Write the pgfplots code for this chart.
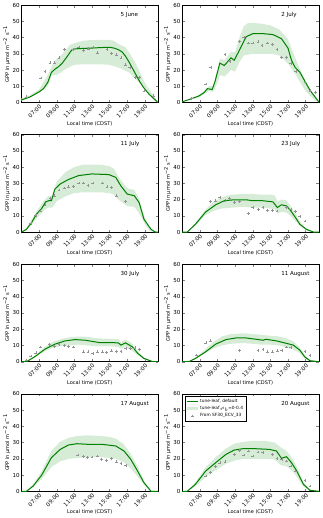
\documentclass[border=0pt]{standalone}
\usepackage{pgfplots}
\pgfplotsset{compat=1.18}
\usepgfplotslibrary{groupplots,fillbetween}
\usepackage{fontspec}
\setmainfont{DejaVu Sans}
\definecolor{bandgreen}{RGB}{214,236,214}
\definecolor{linegreen}{RGB}{0,128,0}

\pgfplotsset{
  gpp band/.style={draw=none, fill=bandgreen, forget plot},
  gpp line/.style={linegreen, line width=1pt, no marks, forget plot},
  gpp obs/.style={only marks, mark=+, mark size=1.4pt, gray!85, mark options={line width=0.4pt}, forget plot},
  legline/.style={legend image code/.code={\draw[##1] (0pt,0pt) -- (11pt,0pt);}},
  legarea/.style={legend image code/.code={\fill[##1] (0pt,-1.7pt) rectangle (11pt,1.7pt);}},
  legmark/.style={legend image code/.code={\draw[##1] plot coordinates {(5.5pt,0pt)};}},
}
\newcommand{\daylabel}[1]{\node[anchor=west, font=\fontsize{5.5}{6}\selectfont] at (rel axis cs:0.7,0.9) {#1};}

\begin{document}
\begin{tikzpicture}
\begin{groupplot}[
  group style={group size=2 by 4, horizontal sep=24pt, vertical sep=32pt},
  scale only axis, width=136pt, height=97pt,
  xmin=5, xmax=20.5, ymin=0, ymax=60,
  xtick={7,9,11,13,15,17,19},
  xticklabels={07:00,09:00,11:00,13:00,15:00,17:00,19:00},
  ytick={0,10,20,30,40,50,60},
  tick align=inside, tick pos=both, major tick length=2.5pt,
  axis line style={line width=0.5pt},
  /pgf/number format/assume math mode=true,
  tick label style={font=\fontsize{5.5}{6}\selectfont},
  xticklabel style={rotate=45, anchor=north east, inner sep=1pt},
  yticklabel style={inner sep=1.5pt},
  xlabel={Local time (CDST)},
  ylabel={GPP in μmol m\textsuperscript{−2} s\textsuperscript{−1}},
  label style={font=\fontsize{5}{6}\selectfont},
  xlabel style={yshift=2pt},
  ylabel style={yshift=-2.5pt},
]
% ---------- 5 June
\nextgroupplot
\addplot[name path=u1, draw=none, forget plot] coordinates {(5,2.5)(6,4.5)(7,8)(8,17)(8.5,23)(9,27)(9.5,29)(10,32)(10.5,35.5)(11,36.5)(12,38)(13,38.5)(14,38.5)(15,38.5)(15.5,38)(16,36)(16.8,34)(17.3,30)(18,23.8)(19,12)(20,4)(20.5,0)};
\addplot[name path=l1, draw=none, forget plot] coordinates {(5,1)(6,3)(7,6)(8,10)(8.4,16.6)(9,17)(9.5,18.5)(10,20.5)(10.5,22)(11,23.2)(12,23.5)(13,23.5)(14,23.5)(15,23.2)(16,21.5)(17.2,18.6)(18,14)(18.75,10.4)(19.5,4.5)(20,1.5)(20.5,0)};
\addplot[gpp band] fill between[of=u1 and l1];
\addplot[gpp line] coordinates {(5,1.5)(6,3.5)(7,6.5)(7.5,8.5)(8,12.5)(8.4,18.5)(8.8,20.5)(9.2,22)(9.6,24)(10.15,28)(10.7,32.3)(11.1,33)(12,33.3)(13,33.5)(14,33.8)(15,34)(15.5,33.5)(16,32.5)(16.45,31)(16.8,28.5)(17.2,25)(17.6,21)(18,17)(18.4,13)(18.75,10)(19.1,7.5)(19.5,5)(20,2.5)(20.5,0)};
\addplot[gpp obs] coordinates {(5.57,3.5)(7.2,15.1)(7.67,19.3)(8.24,24.4)(8.74,24.4)(9.27,27.5)(9.85,32.5)(10.9,32.7)(11.5,34.2)(12.06,32)(12.63,33)(13.1,34.2)(13.6,30.6)(14.7,32.5)(15.2,30.4)(15.8,29.4)(16.3,27.5)(16.8,23.2)(17.3,21.7)(17.9,15.5)(18.35,15.5)(18.9,7.2)(19.96,4.1)};
\daylabel{5 June}
% ---------- 2 July
\nextgroupplot
\addplot[name path=u2, draw=none, forget plot] coordinates {(5,0.5)(6,2.5)(7,5)(7.5,7)(8,10)(8.5,10)(9,20)(9.3,27)(9.8,26)(10.2,29)(10.5,31)(11,31)(11.5,40)(12,47)(12.5,49)(13,49)(14,48.5)(15,47.5)(16,45)(17,39)(17.5,32)(18,25)(19,13)(20,4)(20.5,0)};
\addplot[name path=l2, draw=none, forget plot] coordinates {(5,0.2)(6,2)(7,3.5)(7.5,5)(8,7)(8.5,6.5)(9,12)(9.3,17)(9.8,16)(10.2,18)(10.5,20)(11,19)(11.5,25)(12,29)(13,30)(14,30)(15,30)(16,29)(17,24)(18,16)(19,7)(20,1.5)(20.5,0)};
\addplot[gpp band] fill between[of=u2 and l2];
\addplot[gpp line] coordinates {(5,0.4)(6.15,2.5)(6.9,4)(7.5,6.2)(7.86,8.5)(8.4,8)(8.7,12.4)(9.27,24.2)(9.77,22.8)(10.15,25)(10.53,27.5)(10.9,26)(11.57,33)(12.25,40.4)(13,42.4)(14.15,42.4)(15.3,41.8)(16.26,39.3)(17,33.5)(17.4,26)(17.8,21.7)(18.35,18.6)(19.5,7.5)(20.5,0.4)};
\addplot[gpp obs] coordinates {(6.07,2.5)(7.67,11.4)(8.24,21.7)(9.85,29.6)(10.4,25.3)(11.5,37.5)(12,40)(12.5,36.6)(13,36.6)(13.6,37.3)(14.05,35.2)(14.65,36.6)(15.2,35.8)(15.76,32.5)(16.26,27.9)(16.83,27.9)(17.33,24.2)(17.9,19)(18.93,12.4)(19.5,7.2)(20.08,6.2)};
\daylabel{2 July}
% ---------- 11 July
\nextgroupplot
\addplot[name path=u3, draw=none, forget plot] coordinates {(5,0)(5.5,2)(6,6.5)(7,15)(7.5,19)(8,22)(8.5,22.5)(9,31)(10,37)(11,40)(12,41.5)(14,41.5)(15,40.5)(15.5,39)(16,34)(17,27)(17.8,26)(18.3,21)(19,9)(19.5,3)(20,0.5)(20.5,0)};
\addplot[name path=l3, draw=none, forget plot] coordinates {(5,0)(5.5,1)(6,4)(7,10)(7.5,13)(8,15)(8.5,15)(9,19)(10,22)(11,24)(12,24.5)(14,24.5)(15,24)(15.5,23)(16,20)(17,16)(17.8,15.5)(18.3,12)(19,5)(19.5,1)(20,0)(20.5,0)};
\addplot[gpp band] fill between[of=u3 and l3];
\addplot[gpp line] coordinates {(5,0)(5.57,1.7)(6.15,5.8)(6.7,11)(7.3,14.5)(7.75,18.6)(8.1,19.3)(8.4,19.3)(8.8,26.5)(9.4,29.6)(10.3,32.3)(11.5,34.8)(13,35.8)(14.9,35.4)(15.7,33.7)(16.26,28.6)(17,23.4)(17.8,22.4)(18.35,18.2)(18.9,7.9)(19.7,1.7)(20.2,0)(20.5,0)};
\addplot[gpp obs] coordinates {(6.07,5.4)(6.64,10.4)(7.18,13)(7.67,16.8)(8.24,20.9)(8.74,22.4)(9.27,25.9)(9.85,27.1)(10.34,27.9)(10.9,28.2)(11.5,30.2)(12,30.2)(12.56,28.6)(13.1,30.2)(14.16,30.2)(14.7,27.9)(15.2,27.5)(15.8,22.4)(16.8,18.8)};
\daylabel{11 July}
% ---------- 23 July
\nextgroupplot
\addplot[name path=u4, draw=none, forget plot] coordinates {(5,0)(5.6,0)(6.5,5.5)(7.5,13)(8.5,18.5)(9.5,21.5)(10.5,23)(12,23.5)(13,23.5)(14,23)(15,23)(15.5,22.5)(15.8,19)(16.3,20)(16.8,19.5)(17.3,16)(17.9,11)(18.4,6)(19,2)(19.9,0)(20.5,0)};
\addplot[name path=l4, draw=none, forget plot] coordinates {(5,0)(5.6,0)(6.5,4)(7.5,10)(8.5,13)(9.5,14.5)(10.5,15)(12,15.5)(13,15)(14,15)(15,14.5)(15.5,14)(15.8,11.5)(16.3,12.5)(16.8,12)(17.3,10)(17.9,6.5)(18.4,3.5)(19,1)(19.9,0)(20.5,0)};
\addplot[gpp band] fill between[of=u4 and l4];
\addplot[gpp line] coordinates {(5,0)(5.57,0)(6.5,4.8)(7.67,12.4)(8.8,16.8)(9.77,19.3)(10.9,19.9)(12.25,19.9)(13,19.3)(14.15,19.3)(15.3,18.6)(15.8,15.1)(16.26,16.8)(16.83,16.1)(17.33,13)(17.86,8.9)(18.35,4.8)(19.1,1.7)(19.9,0)(20.5,0)};
\addplot[gpp obs] coordinates {(8.17,18.8)(8.74,19.3)(9.27,21.3)(9.85,19.3)(10.34,20.7)(10.9,18.2)(11.5,18.8)(12.5,11.6)(13,15.1)(13.66,14.1)(14.16,15.1)(14.65,13.5)(15.2,13.5)(15.76,13)(16.83,15.1)(17.33,14.1)(17.86,12.6)(18.35,9.5)(18.93,6.8)};
\daylabel{23 July}
% ---------- 30 July
\nextgroupplot
\addplot[name path=u5, draw=none, forget plot] coordinates {(5,0)(5.6,0)(6.5,3.5)(7.5,8.5)(8.5,12)(9.5,14)(10.5,15)(11.5,15.5)(12.5,15.3)(13.5,14.5)(15,14)(16,14)(16.3,12)(16.8,13.5)(17.5,11.5)(18.2,6.5)(18.9,2.5)(19.9,0)(20.5,0)};
\addplot[name path=l5, draw=none, forget plot] coordinates {(5,0)(5.6,0)(6.5,2.5)(7.5,6)(8.5,8.5)(9.5,9.5)(10.5,10)(11.5,10.5)(12.5,10)(13.5,9.5)(15,9.5)(16,9)(16.3,8)(16.8,9)(17.5,7)(18.2,4)(18.9,1.5)(19.9,0)(20.5,0)};
\addplot[gpp band] fill between[of=u5 and l5];
\addplot[gpp line] coordinates {(5,0)(5.57,0)(6.5,3)(7.67,7.7)(8.8,10.8)(9.96,12.8)(11.1,13.6)(12.25,13.2)(13.8,11.8)(15.3,11.8)(16,11.5)(16.3,10.2)(16.8,11.6)(17.6,9.1)(18.2,5.1)(18.9,2)(19.9,0)(20.5,0)};
\addplot[gpp obs] coordinates {(5.57,1)(6.07,3.5)(6.64,5.5)(7.18,9.1)(8.17,10.8)(8.74,9.6)(9.27,10.8)(9.85,10.2)(10.34,9.6)(10.9,9.1)(12,6.1)(12.56,6.1)(13.1,5.1)(13.6,6.1)(14.16,6.1)(14.65,5.7)(15.2,6.7)(15.8,6.5)(16.3,6.5)(16.83,8.1)(17.33,8.1)(17.86,8.5)(18.35,7.7)};
\daylabel{30 July}
% ---------- 11 August
\nextgroupplot
\addplot[name path=u6, draw=none, forget plot] coordinates {(5,0)(5.8,0)(6.5,2.5)(7.5,7)(8.5,12)(9.5,15.5)(10.5,17)(12,17.5)(13,17)(14,16.5)(15,16)(16,15.5)(17,14)(17.6,12.5)(18.3,9)(18.9,4)(19.5,1)(20.5,0)};
\addplot[name path=l6, draw=none, forget plot] coordinates {(5,0)(5.8,0)(6.5,1.5)(7.5,5)(8.5,8)(9.5,10)(10.5,11)(12,11.5)(13,11)(14,10.5)(15,10.5)(16,10)(17,8.5)(17.6,7.5)(18.3,5.5)(18.9,2)(19.5,0.3)(20.5,0)};
\addplot[gpp band] fill between[of=u6 and l6];
\addplot[gpp line] coordinates {(5,0)(5.76,0)(6.5,2)(7.67,6.1)(8.8,10.8)(9.96,13.6)(11.1,14.6)(12.25,14.6)(13.4,13.8)(14.16,13.2)(14.5,13.8)(15.7,12.8)(16.6,11.6)(17.6,10.2)(18.35,7.1)(18.9,3)(19.5,0.6)(20.5,0)};
\addplot[gpp obs] coordinates {(6.64,4.1)(7.67,11.6)(8.17,12.8)(11.5,7.1)(13.6,7.1)(14.16,7.5)(14.65,6.1)(15.2,6.1)(15.8,6.7)(16.3,7.1)(16.83,9.1)(17.33,8.7)(18.93,6.5)(19.5,3.7)};
\daylabel{11 August}
% ---------- 17 August
\nextgroupplot
\addplot[name path=u7, draw=none, forget plot] coordinates {(5,0)(5.6,0)(6.3,4)(7.3,12.5)(8.4,25)(9.4,30.5)(10.4,33)(11.3,34)(12.5,34.5)(14,34)(15,33.5)(15.7,32.5)(16.6,29)(17.4,23)(18.2,15)(18.9,6.5)(19.7,0.3)(20.5,0)};
\addplot[name path=l7, draw=none, forget plot] coordinates {(5,0)(5.6,0)(6.3,2.5)(7.3,7.5)(8.4,15)(9.4,18.5)(10.4,20)(11.3,20.5)(12.5,21)(14,21)(15,20.5)(15.7,20)(16.6,18)(17.4,14)(18.2,9)(18.9,4)(19.7,0)(20.5,0)};
\addplot[gpp band] fill between[of=u7 and l7];
\addplot[gpp line] coordinates {(5,0)(5.57,0)(6.34,3.3)(7.3,10)(8.4,20.7)(9.4,25.8)(10.34,28.5)(11.3,29.3)(12.63,28.9)(14.16,28.9)(15.7,27.9)(16.64,24.8)(17.4,19.7)(18.17,12.5)(18.9,5.3)(19.7,0)(20.5,0)};
\addplot[gpp obs] coordinates {(11.4,22.3)(12,21.3)(12.5,20.7)(13,21.1)(13.6,21.7)(14.05,19.7)(14.65,19.1)(15.2,20.1)(15.76,18.2)(16.3,17.2)(16.83,16)};
\daylabel{17 August}
% ---------- 20 August
\nextgroupplot[
  legend style={at={(0.02,0.98)}, anchor=north west, font=\fontsize{4.3}{5}\selectfont,
    draw=black, line width=0.3pt, inner sep=1pt, row sep=-1.5pt, cells={anchor=west}},
]
\addlegendimage{legline, linegreen, line width=1pt}
\addlegendentry{tune-leaf, default}
\addlegendimage{legarea, draw=none, fill=bandgreen}
\addlegendentry{tune-leaf,$\rho_b$=0-0.4}
\addlegendimage{legmark, only marks, mark=+, mark size=1.4pt, gray!85}
\addlegendentry{From SF30\_ECV\_33}
\addplot[name path=u8, draw=none, forget plot] coordinates {(5,0)(5.6,0)(6.5,5.5)(7.7,15)(8.8,21)(10,26.5)(11,29.5)(12,30.5)(13,31)(14.5,31)(15.5,30)(16.2,27)(16.8,25)(17.4,21)(18,15)(18.75,5.5)(19.5,1)(20.5,0)};
\addplot[name path=l8, draw=none, forget plot] coordinates {(5,0)(5.6,0)(6.5,3)(7.7,9)(8.8,13)(10,17)(11,19)(12,20)(13,20)(14.5,20)(15.5,19.5)(16.2,16)(16.8,15.5)(17.4,13)(18,9)(18.75,3)(19.5,0.3)(20.5,0)};
\addplot[gpp band] fill between[of=u8 and l8];
\addplot[gpp line] coordinates {(5,0)(5.57,0)(6.5,4.3)(7.67,12.5)(8.8,17.6)(9.96,22.7)(10.9,25.4)(11.86,26.2)(13.4,26.2)(14.9,25.8)(15.7,24.8)(16.26,20.3)(16.83,21.3)(17.4,17.6)(18,12.5)(18.75,4.3)(19.5,0.6)(20.5,0)};
\addplot[gpp obs] coordinates {(7.67,9.4)(8.17,11.5)(8.74,15.2)(9.27,17.6)(9.85,18.2)(10.9,22.7)(11.5,25.2)(12,22.3)(12.5,24.8)(13,21.7)(13.6,24.2)(14.15,23.8)(15.2,22.7)(15.76,20.3)(16.3,19.7)(16.83,18.6)(17.33,15.6)(17.86,12.5)(18.93,6.8)(19.5,3.3)};
\daylabel{20 August}
\end{groupplot}
\path (group c2r1.north east) ++(4pt,5pt);
\end{tikzpicture}
\end{document}
